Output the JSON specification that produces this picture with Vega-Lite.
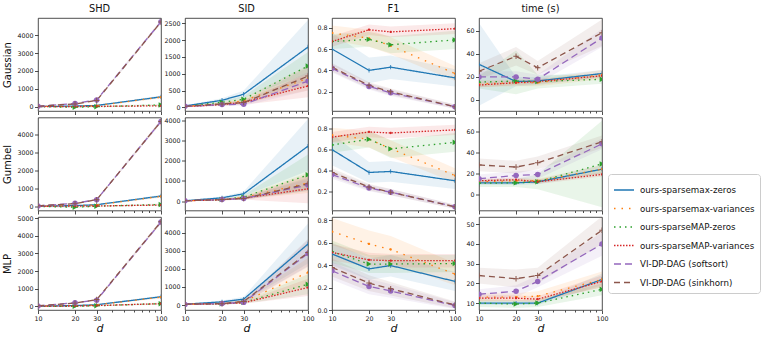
{
"$schema":"https://vega.github.io/schema/vega-lite/v6.json",
"padding":{"left":2,"top":3,"right":5,"bottom":3},
"bounds":"flush",
"columns":4,
"spacing":{"row":6.5,"column":24},
"data":{"values":[
{"r":"Gaussian","m":"SHD","s":"ours-sparsemax-zeros","d":10,"v":10,"lo":0,"hi":20},
{"r":"Gaussian","m":"SHD","s":"ours-sparsemax-zeros","d":20,"v":35,"lo":20,"hi":50},
{"r":"Gaussian","m":"SHD","s":"ours-sparsemax-zeros","d":30,"v":70,"lo":50,"hi":90},
{"r":"Gaussian","m":"SHD","s":"ours-sparsemax-zeros","d":100,"v":550,"lo":480,"hi":620},
{"r":"Gaussian","m":"SHD","s":"ours-sparsemax-variances","d":10,"v":10,"lo":0,"hi":20},
{"r":"Gaussian","m":"SHD","s":"ours-sparsemax-variances","d":20,"v":30,"lo":15,"hi":45},
{"r":"Gaussian","m":"SHD","s":"ours-sparsemax-variances","d":30,"v":60,"lo":40,"hi":80},
{"r":"Gaussian","m":"SHD","s":"ours-sparsemax-variances","d":100,"v":530,"lo":460,"hi":600},
{"r":"Gaussian","m":"SHD","s":"ours-sparseMAP-zeros","d":10,"v":5,"lo":-20,"hi":30},
{"r":"Gaussian","m":"SHD","s":"ours-sparseMAP-zeros","d":20,"v":-30,"lo":-80,"hi":20},
{"r":"Gaussian","m":"SHD","s":"ours-sparseMAP-zeros","d":30,"v":0,"lo":-40,"hi":40},
{"r":"Gaussian","m":"SHD","s":"ours-sparseMAP-zeros","d":100,"v":100,"lo":40,"hi":160},
{"r":"Gaussian","m":"SHD","s":"ours-sparseMAP-variances","d":10,"v":5,"lo":0,"hi":10},
{"r":"Gaussian","m":"SHD","s":"ours-sparseMAP-variances","d":20,"v":10,"lo":0,"hi":20},
{"r":"Gaussian","m":"SHD","s":"ours-sparseMAP-variances","d":30,"v":20,"lo":10,"hi":30},
{"r":"Gaussian","m":"SHD","s":"ours-sparseMAP-variances","d":100,"v":50,"lo":30,"hi":70},
{"r":"Gaussian","m":"SHD","s":"VI-DP-DAG (softsort)","d":10,"v":20,"lo":0,"hi":40},
{"r":"Gaussian","m":"SHD","s":"VI-DP-DAG (softsort)","d":20,"v":180,"lo":140,"hi":220},
{"r":"Gaussian","m":"SHD","s":"VI-DP-DAG (softsort)","d":30,"v":380,"lo":330,"hi":430},
{"r":"Gaussian","m":"SHD","s":"VI-DP-DAG (softsort)","d":100,"v":4750,"lo":4650,"hi":4850},
{"r":"Gaussian","m":"SHD","s":"VI-DP-DAG (sinkhorn)","d":10,"v":30,"lo":10,"hi":50},
{"r":"Gaussian","m":"SHD","s":"VI-DP-DAG (sinkhorn)","d":20,"v":150,"lo":110,"hi":190},
{"r":"Gaussian","m":"SHD","s":"VI-DP-DAG (sinkhorn)","d":30,"v":350,"lo":300,"hi":400},
{"r":"Gaussian","m":"SHD","s":"VI-DP-DAG (sinkhorn)","d":100,"v":4740,"lo":4640,"hi":4840},

{"r":"Gaussian","m":"SID","s":"ours-sparsemax-zeros","d":10,"v":40,"lo":20,"hi":60},
{"r":"Gaussian","m":"SID","s":"ours-sparsemax-zeros","d":20,"v":210,"lo":150,"hi":270},
{"r":"Gaussian","m":"SID","s":"ours-sparsemax-zeros","d":30,"v":390,"lo":280,"hi":500},
{"r":"Gaussian","m":"SID","s":"ours-sparsemax-zeros","d":100,"v":1795,"lo":1000,"hi":2600},
{"r":"Gaussian","m":"SID","s":"ours-sparsemax-variances","d":10,"v":30,"lo":10,"hi":50},
{"r":"Gaussian","m":"SID","s":"ours-sparsemax-variances","d":20,"v":100,"lo":60,"hi":140},
{"r":"Gaussian","m":"SID","s":"ours-sparsemax-variances","d":30,"v":200,"lo":120,"hi":280},
{"r":"Gaussian","m":"SID","s":"ours-sparsemax-variances","d":100,"v":860,"lo":500,"hi":1250},
{"r":"Gaussian","m":"SID","s":"ours-sparseMAP-zeros","d":10,"v":30,"lo":10,"hi":50},
{"r":"Gaussian","m":"SID","s":"ours-sparseMAP-zeros","d":20,"v":150,"lo":100,"hi":200},
{"r":"Gaussian","m":"SID","s":"ours-sparseMAP-zeros","d":30,"v":240,"lo":150,"hi":330},
{"r":"Gaussian","m":"SID","s":"ours-sparseMAP-zeros","d":100,"v":1230,"lo":800,"hi":1650},
{"r":"Gaussian","m":"SID","s":"ours-sparseMAP-variances","d":10,"v":20,"lo":0,"hi":40},
{"r":"Gaussian","m":"SID","s":"ours-sparseMAP-variances","d":20,"v":80,"lo":40,"hi":120},
{"r":"Gaussian","m":"SID","s":"ours-sparseMAP-variances","d":30,"v":150,"lo":80,"hi":220},
{"r":"Gaussian","m":"SID","s":"ours-sparseMAP-variances","d":100,"v":635,"lo":300,"hi":1000},
{"r":"Gaussian","m":"SID","s":"VI-DP-DAG (softsort)","d":10,"v":30,"lo":10,"hi":50},
{"r":"Gaussian","m":"SID","s":"VI-DP-DAG (softsort)","d":20,"v":80,"lo":50,"hi":110},
{"r":"Gaussian","m":"SID","s":"VI-DP-DAG (softsort)","d":30,"v":90,"lo":40,"hi":140},
{"r":"Gaussian","m":"SID","s":"VI-DP-DAG (softsort)","d":100,"v":780,"lo":500,"hi":1050},
{"r":"Gaussian","m":"SID","s":"VI-DP-DAG (sinkhorn)","d":10,"v":30,"lo":10,"hi":50},
{"r":"Gaussian","m":"SID","s":"VI-DP-DAG (sinkhorn)","d":20,"v":100,"lo":60,"hi":140},
{"r":"Gaussian","m":"SID","s":"VI-DP-DAG (sinkhorn)","d":30,"v":140,"lo":80,"hi":200},
{"r":"Gaussian","m":"SID","s":"VI-DP-DAG (sinkhorn)","d":100,"v":930,"lo":650,"hi":1200},

{"r":"Gaussian","m":"F1","s":"ours-sparsemax-zeros","d":10,"v":0.60,"lo":0.45,"hi":0.75},
{"r":"Gaussian","m":"F1","s":"ours-sparsemax-zeros","d":20,"v":0.40,"lo":0.28,"hi":0.52},
{"r":"Gaussian","m":"F1","s":"ours-sparsemax-zeros","d":30,"v":0.43,"lo":0.32,"hi":0.54},
{"r":"Gaussian","m":"F1","s":"ours-sparsemax-zeros","d":100,"v":0.33,"lo":0.25,"hi":0.41},
{"r":"Gaussian","m":"F1","s":"ours-sparsemax-variances","d":10,"v":0.75,"lo":0.68,"hi":0.82},
{"r":"Gaussian","m":"F1","s":"ours-sparsemax-variances","d":20,"v":0.70,"lo":0.62,"hi":0.78},
{"r":"Gaussian","m":"F1","s":"ours-sparsemax-variances","d":30,"v":0.63,"lo":0.55,"hi":0.71},
{"r":"Gaussian","m":"F1","s":"ours-sparsemax-variances","d":100,"v":0.37,"lo":0.30,"hi":0.44},
{"r":"Gaussian","m":"F1","s":"ours-sparseMAP-zeros","d":10,"v":0.67,"lo":0.60,"hi":0.74},
{"r":"Gaussian","m":"F1","s":"ours-sparseMAP-zeros","d":20,"v":0.69,"lo":0.62,"hi":0.76},
{"r":"Gaussian","m":"F1","s":"ours-sparseMAP-zeros","d":30,"v":0.64,"lo":0.56,"hi":0.72},
{"r":"Gaussian","m":"F1","s":"ours-sparseMAP-zeros","d":100,"v":0.685,"lo":0.60,"hi":0.77},
{"r":"Gaussian","m":"F1","s":"ours-sparseMAP-variances","d":10,"v":0.67,"lo":0.62,"hi":0.72},
{"r":"Gaussian","m":"F1","s":"ours-sparseMAP-variances","d":20,"v":0.78,"lo":0.73,"hi":0.83},
{"r":"Gaussian","m":"F1","s":"ours-sparseMAP-variances","d":30,"v":0.76,"lo":0.71,"hi":0.81},
{"r":"Gaussian","m":"F1","s":"ours-sparseMAP-variances","d":100,"v":0.79,"lo":0.74,"hi":0.84},
{"r":"Gaussian","m":"F1","s":"VI-DP-DAG (softsort)","d":10,"v":0.42,"lo":0.38,"hi":0.46},
{"r":"Gaussian","m":"F1","s":"VI-DP-DAG (softsort)","d":20,"v":0.25,"lo":0.22,"hi":0.28},
{"r":"Gaussian","m":"F1","s":"VI-DP-DAG (softsort)","d":30,"v":0.19,"lo":0.16,"hi":0.22},
{"r":"Gaussian","m":"F1","s":"VI-DP-DAG (softsort)","d":100,"v":0.06,"lo":0.04,"hi":0.08},
{"r":"Gaussian","m":"F1","s":"VI-DP-DAG (sinkhorn)","d":10,"v":0.43,"lo":0.39,"hi":0.47},
{"r":"Gaussian","m":"F1","s":"VI-DP-DAG (sinkhorn)","d":20,"v":0.26,"lo":0.23,"hi":0.29},
{"r":"Gaussian","m":"F1","s":"VI-DP-DAG (sinkhorn)","d":30,"v":0.20,"lo":0.17,"hi":0.23},
{"r":"Gaussian","m":"F1","s":"VI-DP-DAG (sinkhorn)","d":100,"v":0.06,"lo":0.04,"hi":0.08},

{"r":"Gaussian","m":"time","s":"ours-sparsemax-zeros","d":10,"v":31,"lo":-5,"hi":67},
{"r":"Gaussian","m":"time","s":"ours-sparsemax-zeros","d":20,"v":16,"lo":12,"hi":20},
{"r":"Gaussian","m":"time","s":"ours-sparsemax-zeros","d":30,"v":16.5,"lo":13,"hi":20},
{"r":"Gaussian","m":"time","s":"ours-sparsemax-zeros","d":100,"v":23,"lo":20,"hi":26},
{"r":"Gaussian","m":"time","s":"ours-sparsemax-variances","d":10,"v":14,"lo":11,"hi":17},
{"r":"Gaussian","m":"time","s":"ours-sparsemax-variances","d":20,"v":15,"lo":12,"hi":18},
{"r":"Gaussian","m":"time","s":"ours-sparsemax-variances","d":30,"v":15,"lo":12,"hi":18},
{"r":"Gaussian","m":"time","s":"ours-sparsemax-variances","d":100,"v":22,"lo":18,"hi":26},
{"r":"Gaussian","m":"time","s":"ours-sparseMAP-zeros","d":10,"v":15.5,"lo":10,"hi":21},
{"r":"Gaussian","m":"time","s":"ours-sparseMAP-zeros","d":20,"v":16.5,"lo":5,"hi":43},
{"r":"Gaussian","m":"time","s":"ours-sparseMAP-zeros","d":30,"v":16,"lo":10,"hi":22},
{"r":"Gaussian","m":"time","s":"ours-sparseMAP-zeros","d":100,"v":18,"lo":14,"hi":22},
{"r":"Gaussian","m":"time","s":"ours-sparseMAP-variances","d":10,"v":13,"lo":11,"hi":15},
{"r":"Gaussian","m":"time","s":"ours-sparseMAP-variances","d":20,"v":15,"lo":13,"hi":17},
{"r":"Gaussian","m":"time","s":"ours-sparseMAP-variances","d":30,"v":16,"lo":14,"hi":18},
{"r":"Gaussian","m":"time","s":"ours-sparseMAP-variances","d":100,"v":21,"lo":19,"hi":23},
{"r":"Gaussian","m":"time","s":"VI-DP-DAG (softsort)","d":10,"v":20,"lo":15,"hi":25},
{"r":"Gaussian","m":"time","s":"VI-DP-DAG (softsort)","d":20,"v":20,"lo":15,"hi":25},
{"r":"Gaussian","m":"time","s":"VI-DP-DAG (softsort)","d":30,"v":18,"lo":14,"hi":22},
{"r":"Gaussian","m":"time","s":"VI-DP-DAG (softsort)","d":100,"v":54,"lo":46,"hi":62},
{"r":"Gaussian","m":"time","s":"VI-DP-DAG (sinkhorn)","d":10,"v":25,"lo":18,"hi":32},
{"r":"Gaussian","m":"time","s":"VI-DP-DAG (sinkhorn)","d":20,"v":38,"lo":30,"hi":46},
{"r":"Gaussian","m":"time","s":"VI-DP-DAG (sinkhorn)","d":30,"v":28,"lo":22,"hi":34},
{"r":"Gaussian","m":"time","s":"VI-DP-DAG (sinkhorn)","d":100,"v":58.5,"lo":47,"hi":70},

{"r":"Gumbel","m":"SHD","s":"ours-sparsemax-zeros","d":10,"v":10,"lo":0,"hi":20},
{"r":"Gumbel","m":"SHD","s":"ours-sparsemax-zeros","d":20,"v":40,"lo":25,"hi":55},
{"r":"Gumbel","m":"SHD","s":"ours-sparsemax-zeros","d":30,"v":90,"lo":70,"hi":110},
{"r":"Gumbel","m":"SHD","s":"ours-sparsemax-zeros","d":100,"v":570,"lo":500,"hi":640},
{"r":"Gumbel","m":"SHD","s":"ours-sparsemax-variances","d":10,"v":10,"lo":0,"hi":20},
{"r":"Gumbel","m":"SHD","s":"ours-sparsemax-variances","d":20,"v":35,"lo":20,"hi":50},
{"r":"Gumbel","m":"SHD","s":"ours-sparsemax-variances","d":30,"v":80,"lo":60,"hi":100},
{"r":"Gumbel","m":"SHD","s":"ours-sparsemax-variances","d":100,"v":550,"lo":480,"hi":620},
{"r":"Gumbel","m":"SHD","s":"ours-sparseMAP-zeros","d":10,"v":0,"lo":-30,"hi":30},
{"r":"Gumbel","m":"SHD","s":"ours-sparseMAP-zeros","d":20,"v":-50,"lo":-100,"hi":0},
{"r":"Gumbel","m":"SHD","s":"ours-sparseMAP-zeros","d":30,"v":10,"lo":-30,"hi":50},
{"r":"Gumbel","m":"SHD","s":"ours-sparseMAP-zeros","d":100,"v":100,"lo":40,"hi":160},
{"r":"Gumbel","m":"SHD","s":"ours-sparseMAP-variances","d":10,"v":5,"lo":0,"hi":10},
{"r":"Gumbel","m":"SHD","s":"ours-sparseMAP-variances","d":20,"v":10,"lo":0,"hi":20},
{"r":"Gumbel","m":"SHD","s":"ours-sparseMAP-variances","d":30,"v":20,"lo":10,"hi":30},
{"r":"Gumbel","m":"SHD","s":"ours-sparseMAP-variances","d":100,"v":70,"lo":50,"hi":90},
{"r":"Gumbel","m":"SHD","s":"VI-DP-DAG (softsort)","d":10,"v":20,"lo":0,"hi":40},
{"r":"Gumbel","m":"SHD","s":"VI-DP-DAG (softsort)","d":20,"v":170,"lo":130,"hi":210},
{"r":"Gumbel","m":"SHD","s":"VI-DP-DAG (softsort)","d":30,"v":370,"lo":320,"hi":420},
{"r":"Gumbel","m":"SHD","s":"VI-DP-DAG (softsort)","d":100,"v":4700,"lo":4600,"hi":4800},
{"r":"Gumbel","m":"SHD","s":"VI-DP-DAG (sinkhorn)","d":10,"v":30,"lo":10,"hi":50},
{"r":"Gumbel","m":"SHD","s":"VI-DP-DAG (sinkhorn)","d":20,"v":150,"lo":110,"hi":190},
{"r":"Gumbel","m":"SHD","s":"VI-DP-DAG (sinkhorn)","d":30,"v":370,"lo":320,"hi":420},
{"r":"Gumbel","m":"SHD","s":"VI-DP-DAG (sinkhorn)","d":100,"v":4700,"lo":4600,"hi":4800},

{"r":"Gumbel","m":"SID","s":"ours-sparsemax-zeros","d":10,"v":20,"lo":0,"hi":40},
{"r":"Gumbel","m":"SID","s":"ours-sparsemax-zeros","d":20,"v":165,"lo":100,"hi":230},
{"r":"Gumbel","m":"SID","s":"ours-sparsemax-zeros","d":30,"v":365,"lo":250,"hi":480},
{"r":"Gumbel","m":"SID","s":"ours-sparsemax-zeros","d":100,"v":2716,"lo":1500,"hi":4050},
{"r":"Gumbel","m":"SID","s":"ours-sparsemax-variances","d":10,"v":20,"lo":0,"hi":40},
{"r":"Gumbel","m":"SID","s":"ours-sparsemax-variances","d":20,"v":80,"lo":40,"hi":120},
{"r":"Gumbel","m":"SID","s":"ours-sparsemax-variances","d":30,"v":180,"lo":100,"hi":260},
{"r":"Gumbel","m":"SID","s":"ours-sparsemax-variances","d":100,"v":900,"lo":400,"hi":1400},
{"r":"Gumbel","m":"SID","s":"ours-sparseMAP-zeros","d":10,"v":20,"lo":0,"hi":40},
{"r":"Gumbel","m":"SID","s":"ours-sparseMAP-zeros","d":20,"v":80,"lo":40,"hi":120},
{"r":"Gumbel","m":"SID","s":"ours-sparseMAP-zeros","d":30,"v":200,"lo":100,"hi":300},
{"r":"Gumbel","m":"SID","s":"ours-sparseMAP-zeros","d":100,"v":1300,"lo":500,"hi":2300},
{"r":"Gumbel","m":"SID","s":"ours-sparseMAP-variances","d":10,"v":20,"lo":0,"hi":40},
{"r":"Gumbel","m":"SID","s":"ours-sparseMAP-variances","d":20,"v":70,"lo":30,"hi":110},
{"r":"Gumbel","m":"SID","s":"ours-sparseMAP-variances","d":30,"v":150,"lo":80,"hi":220},
{"r":"Gumbel","m":"SID","s":"ours-sparseMAP-variances","d":100,"v":610,"lo":-100,"hi":1300},
{"r":"Gumbel","m":"SID","s":"VI-DP-DAG (softsort)","d":10,"v":20,"lo":0,"hi":40},
{"r":"Gumbel","m":"SID","s":"VI-DP-DAG (softsort)","d":20,"v":80,"lo":40,"hi":120},
{"r":"Gumbel","m":"SID","s":"VI-DP-DAG (softsort)","d":30,"v":130,"lo":70,"hi":190},
{"r":"Gumbel","m":"SID","s":"VI-DP-DAG (softsort)","d":100,"v":800,"lo":500,"hi":1100},
{"r":"Gumbel","m":"SID","s":"VI-DP-DAG (sinkhorn)","d":10,"v":20,"lo":0,"hi":40},
{"r":"Gumbel","m":"SID","s":"VI-DP-DAG (sinkhorn)","d":20,"v":80,"lo":40,"hi":120},
{"r":"Gumbel","m":"SID","s":"VI-DP-DAG (sinkhorn)","d":30,"v":130,"lo":70,"hi":190},
{"r":"Gumbel","m":"SID","s":"VI-DP-DAG (sinkhorn)","d":100,"v":860,"lo":550,"hi":1170},

{"r":"Gumbel","m":"F1","s":"ours-sparsemax-zeros","d":10,"v":0.60,"lo":0.45,"hi":0.75},
{"r":"Gumbel","m":"F1","s":"ours-sparsemax-zeros","d":20,"v":0.38,"lo":0.28,"hi":0.48},
{"r":"Gumbel","m":"F1","s":"ours-sparsemax-zeros","d":30,"v":0.39,"lo":0.29,"hi":0.49},
{"r":"Gumbel","m":"F1","s":"ours-sparsemax-zeros","d":100,"v":0.30,"lo":0.22,"hi":0.38},
{"r":"Gumbel","m":"F1","s":"ours-sparsemax-variances","d":10,"v":0.74,"lo":0.67,"hi":0.81},
{"r":"Gumbel","m":"F1","s":"ours-sparsemax-variances","d":20,"v":0.70,"lo":0.62,"hi":0.78},
{"r":"Gumbel","m":"F1","s":"ours-sparsemax-variances","d":30,"v":0.61,"lo":0.53,"hi":0.69},
{"r":"Gumbel","m":"F1","s":"ours-sparsemax-variances","d":100,"v":0.35,"lo":0.28,"hi":0.42},
{"r":"Gumbel","m":"F1","s":"ours-sparseMAP-zeros","d":10,"v":0.645,"lo":0.57,"hi":0.72},
{"r":"Gumbel","m":"F1","s":"ours-sparseMAP-zeros","d":20,"v":0.70,"lo":0.62,"hi":0.78},
{"r":"Gumbel","m":"F1","s":"ours-sparseMAP-zeros","d":30,"v":0.607,"lo":0.52,"hi":0.69},
{"r":"Gumbel","m":"F1","s":"ours-sparseMAP-zeros","d":100,"v":0.67,"lo":0.58,"hi":0.76},
{"r":"Gumbel","m":"F1","s":"ours-sparseMAP-variances","d":10,"v":0.72,"lo":0.67,"hi":0.77},
{"r":"Gumbel","m":"F1","s":"ours-sparseMAP-variances","d":20,"v":0.77,"lo":0.72,"hi":0.82},
{"r":"Gumbel","m":"F1","s":"ours-sparseMAP-variances","d":30,"v":0.76,"lo":0.71,"hi":0.81},
{"r":"Gumbel","m":"F1","s":"ours-sparseMAP-variances","d":100,"v":0.79,"lo":0.74,"hi":0.84},
{"r":"Gumbel","m":"F1","s":"VI-DP-DAG (softsort)","d":10,"v":0.36,"lo":0.32,"hi":0.40},
{"r":"Gumbel","m":"F1","s":"VI-DP-DAG (softsort)","d":20,"v":0.23,"lo":0.20,"hi":0.26},
{"r":"Gumbel","m":"F1","s":"VI-DP-DAG (softsort)","d":30,"v":0.19,"lo":0.16,"hi":0.22},
{"r":"Gumbel","m":"F1","s":"VI-DP-DAG (softsort)","d":100,"v":0.05,"lo":0.03,"hi":0.07},
{"r":"Gumbel","m":"F1","s":"VI-DP-DAG (sinkhorn)","d":10,"v":0.38,"lo":0.34,"hi":0.42},
{"r":"Gumbel","m":"F1","s":"VI-DP-DAG (sinkhorn)","d":20,"v":0.24,"lo":0.21,"hi":0.27},
{"r":"Gumbel","m":"F1","s":"VI-DP-DAG (sinkhorn)","d":30,"v":0.19,"lo":0.16,"hi":0.22},
{"r":"Gumbel","m":"F1","s":"VI-DP-DAG (sinkhorn)","d":100,"v":0.05,"lo":0.03,"hi":0.07},

{"r":"Gumbel","m":"time","s":"ours-sparsemax-zeros","d":10,"v":11,"lo":9,"hi":13},
{"r":"Gumbel","m":"time","s":"ours-sparsemax-zeros","d":20,"v":11,"lo":9,"hi":13},
{"r":"Gumbel","m":"time","s":"ours-sparsemax-zeros","d":30,"v":12,"lo":10,"hi":14},
{"r":"Gumbel","m":"time","s":"ours-sparsemax-zeros","d":100,"v":24,"lo":20,"hi":28},
{"r":"Gumbel","m":"time","s":"ours-sparsemax-variances","d":10,"v":12,"lo":10,"hi":14},
{"r":"Gumbel","m":"time","s":"ours-sparsemax-variances","d":20,"v":13,"lo":11,"hi":15},
{"r":"Gumbel","m":"time","s":"ours-sparsemax-variances","d":30,"v":13,"lo":11,"hi":15},
{"r":"Gumbel","m":"time","s":"ours-sparsemax-variances","d":100,"v":24,"lo":20,"hi":28},
{"r":"Gumbel","m":"time","s":"ours-sparseMAP-zeros","d":10,"v":10.7,"lo":7,"hi":14},
{"r":"Gumbel","m":"time","s":"ours-sparseMAP-zeros","d":20,"v":11,"lo":7,"hi":15},
{"r":"Gumbel","m":"time","s":"ours-sparseMAP-zeros","d":30,"v":12,"lo":5,"hi":19},
{"r":"Gumbel","m":"time","s":"ours-sparseMAP-zeros","d":100,"v":29,"lo":-12,"hi":70},
{"r":"Gumbel","m":"time","s":"ours-sparseMAP-variances","d":10,"v":13,"lo":11,"hi":15},
{"r":"Gumbel","m":"time","s":"ours-sparseMAP-variances","d":20,"v":14,"lo":12,"hi":16},
{"r":"Gumbel","m":"time","s":"ours-sparseMAP-variances","d":30,"v":12,"lo":10,"hi":14},
{"r":"Gumbel","m":"time","s":"ours-sparseMAP-variances","d":100,"v":19,"lo":17,"hi":21},
{"r":"Gumbel","m":"time","s":"VI-DP-DAG (softsort)","d":10,"v":15,"lo":11,"hi":19},
{"r":"Gumbel","m":"time","s":"VI-DP-DAG (softsort)","d":20,"v":18,"lo":14,"hi":22},
{"r":"Gumbel","m":"time","s":"VI-DP-DAG (softsort)","d":30,"v":19,"lo":15,"hi":23},
{"r":"Gumbel","m":"time","s":"VI-DP-DAG (softsort)","d":100,"v":48,"lo":43,"hi":53},
{"r":"Gumbel","m":"time","s":"VI-DP-DAG (sinkhorn)","d":10,"v":28,"lo":22,"hi":34},
{"r":"Gumbel","m":"time","s":"VI-DP-DAG (sinkhorn)","d":20,"v":26,"lo":20,"hi":32},
{"r":"Gumbel","m":"time","s":"VI-DP-DAG (sinkhorn)","d":30,"v":30,"lo":24,"hi":36},
{"r":"Gumbel","m":"time","s":"VI-DP-DAG (sinkhorn)","d":100,"v":50,"lo":44,"hi":56},

{"r":"MLP","m":"SHD","s":"ours-sparsemax-zeros","d":10,"v":10,"lo":0,"hi":20},
{"r":"MLP","m":"SHD","s":"ours-sparsemax-zeros","d":20,"v":40,"lo":25,"hi":55},
{"r":"MLP","m":"SHD","s":"ours-sparsemax-zeros","d":30,"v":90,"lo":70,"hi":110},
{"r":"MLP","m":"SHD","s":"ours-sparsemax-zeros","d":100,"v":540,"lo":470,"hi":610},
{"r":"MLP","m":"SHD","s":"ours-sparsemax-variances","d":10,"v":10,"lo":0,"hi":20},
{"r":"MLP","m":"SHD","s":"ours-sparsemax-variances","d":20,"v":40,"lo":25,"hi":55},
{"r":"MLP","m":"SHD","s":"ours-sparsemax-variances","d":30,"v":80,"lo":60,"hi":100},
{"r":"MLP","m":"SHD","s":"ours-sparsemax-variances","d":100,"v":520,"lo":450,"hi":590},
{"r":"MLP","m":"SHD","s":"ours-sparseMAP-zeros","d":10,"v":0,"lo":-20,"hi":20},
{"r":"MLP","m":"SHD","s":"ours-sparseMAP-zeros","d":20,"v":0,"lo":-40,"hi":40},
{"r":"MLP","m":"SHD","s":"ours-sparseMAP-zeros","d":30,"v":30,"lo":0,"hi":60},
{"r":"MLP","m":"SHD","s":"ours-sparseMAP-zeros","d":100,"v":150,"lo":90,"hi":210},
{"r":"MLP","m":"SHD","s":"ours-sparseMAP-variances","d":10,"v":5,"lo":0,"hi":10},
{"r":"MLP","m":"SHD","s":"ours-sparseMAP-variances","d":20,"v":20,"lo":10,"hi":30},
{"r":"MLP","m":"SHD","s":"ours-sparseMAP-variances","d":30,"v":40,"lo":25,"hi":55},
{"r":"MLP","m":"SHD","s":"ours-sparseMAP-variances","d":100,"v":150,"lo":120,"hi":180},
{"r":"MLP","m":"SHD","s":"VI-DP-DAG (softsort)","d":10,"v":20,"lo":0,"hi":40},
{"r":"MLP","m":"SHD","s":"VI-DP-DAG (softsort)","d":20,"v":200,"lo":160,"hi":240},
{"r":"MLP","m":"SHD","s":"VI-DP-DAG (softsort)","d":30,"v":350,"lo":300,"hi":400},
{"r":"MLP","m":"SHD","s":"VI-DP-DAG (softsort)","d":100,"v":4780,"lo":4680,"hi":4880},
{"r":"MLP","m":"SHD","s":"VI-DP-DAG (sinkhorn)","d":10,"v":30,"lo":10,"hi":50},
{"r":"MLP","m":"SHD","s":"VI-DP-DAG (sinkhorn)","d":20,"v":180,"lo":140,"hi":220},
{"r":"MLP","m":"SHD","s":"VI-DP-DAG (sinkhorn)","d":30,"v":380,"lo":330,"hi":430},
{"r":"MLP","m":"SHD","s":"VI-DP-DAG (sinkhorn)","d":100,"v":4800,"lo":4700,"hi":4900},

{"r":"MLP","m":"SID","s":"ours-sparsemax-zeros","d":10,"v":50,"lo":20,"hi":80},
{"r":"MLP","m":"SID","s":"ours-sparsemax-zeros","d":20,"v":180,"lo":100,"hi":260},
{"r":"MLP","m":"SID","s":"ours-sparsemax-zeros","d":30,"v":330,"lo":200,"hi":460},
{"r":"MLP","m":"SID","s":"ours-sparsemax-zeros","d":100,"v":3370,"lo":2300,"hi":4500},
{"r":"MLP","m":"SID","s":"ours-sparsemax-variances","d":10,"v":50,"lo":20,"hi":80},
{"r":"MLP","m":"SID","s":"ours-sparsemax-variances","d":20,"v":100,"lo":50,"hi":150},
{"r":"MLP","m":"SID","s":"ours-sparsemax-variances","d":30,"v":200,"lo":100,"hi":300},
{"r":"MLP","m":"SID","s":"ours-sparsemax-variances","d":100,"v":1800,"lo":1000,"hi":2600},
{"r":"MLP","m":"SID","s":"ours-sparseMAP-zeros","d":10,"v":50,"lo":20,"hi":80},
{"r":"MLP","m":"SID","s":"ours-sparseMAP-zeros","d":20,"v":80,"lo":40,"hi":120},
{"r":"MLP","m":"SID","s":"ours-sparseMAP-zeros","d":30,"v":150,"lo":80,"hi":220},
{"r":"MLP","m":"SID","s":"ours-sparseMAP-zeros","d":100,"v":1150,"lo":600,"hi":1700},
{"r":"MLP","m":"SID","s":"ours-sparseMAP-variances","d":10,"v":50,"lo":20,"hi":80},
{"r":"MLP","m":"SID","s":"ours-sparseMAP-variances","d":20,"v":70,"lo":30,"hi":110},
{"r":"MLP","m":"SID","s":"ours-sparseMAP-variances","d":30,"v":130,"lo":70,"hi":190},
{"r":"MLP","m":"SID","s":"ours-sparseMAP-variances","d":100,"v":970,"lo":500,"hi":1450},
{"r":"MLP","m":"SID","s":"VI-DP-DAG (softsort)","d":10,"v":40,"lo":10,"hi":70},
{"r":"MLP","m":"SID","s":"VI-DP-DAG (softsort)","d":20,"v":90,"lo":50,"hi":130},
{"r":"MLP","m":"SID","s":"VI-DP-DAG (softsort)","d":30,"v":150,"lo":80,"hi":220},
{"r":"MLP","m":"SID","s":"VI-DP-DAG (softsort)","d":100,"v":2850,"lo":2100,"hi":3600},
{"r":"MLP","m":"SID","s":"VI-DP-DAG (sinkhorn)","d":10,"v":50,"lo":20,"hi":80},
{"r":"MLP","m":"SID","s":"VI-DP-DAG (sinkhorn)","d":20,"v":80,"lo":40,"hi":120},
{"r":"MLP","m":"SID","s":"VI-DP-DAG (sinkhorn)","d":30,"v":200,"lo":120,"hi":280},
{"r":"MLP","m":"SID","s":"VI-DP-DAG (sinkhorn)","d":100,"v":2900,"lo":2150,"hi":3650},

{"r":"MLP","m":"F1","s":"ours-sparsemax-zeros","d":10,"v":0.50,"lo":0.40,"hi":0.60},
{"r":"MLP","m":"F1","s":"ours-sparsemax-zeros","d":20,"v":0.367,"lo":0.27,"hi":0.46},
{"r":"MLP","m":"F1","s":"ours-sparsemax-zeros","d":30,"v":0.397,"lo":0.30,"hi":0.49},
{"r":"MLP","m":"F1","s":"ours-sparsemax-zeros","d":100,"v":0.255,"lo":0.17,"hi":0.34},
{"r":"MLP","m":"F1","s":"ours-sparsemax-variances","d":10,"v":0.70,"lo":0.58,"hi":0.82},
{"r":"MLP","m":"F1","s":"ours-sparsemax-variances","d":20,"v":0.59,"lo":0.47,"hi":0.71},
{"r":"MLP","m":"F1","s":"ours-sparsemax-variances","d":30,"v":0.54,"lo":0.42,"hi":0.66},
{"r":"MLP","m":"F1","s":"ours-sparsemax-variances","d":100,"v":0.32,"lo":0.22,"hi":0.42},
{"r":"MLP","m":"F1","s":"ours-sparseMAP-zeros","d":10,"v":0.52,"lo":0.42,"hi":0.62},
{"r":"MLP","m":"F1","s":"ours-sparseMAP-zeros","d":20,"v":0.41,"lo":0.33,"hi":0.49},
{"r":"MLP","m":"F1","s":"ours-sparseMAP-zeros","d":30,"v":0.41,"lo":0.33,"hi":0.49},
{"r":"MLP","m":"F1","s":"ours-sparseMAP-zeros","d":100,"v":0.415,"lo":0.34,"hi":0.49},
{"r":"MLP","m":"F1","s":"ours-sparseMAP-variances","d":10,"v":0.514,"lo":0.44,"hi":0.59},
{"r":"MLP","m":"F1","s":"ours-sparseMAP-variances","d":20,"v":0.447,"lo":0.39,"hi":0.51},
{"r":"MLP","m":"F1","s":"ours-sparseMAP-variances","d":30,"v":0.44,"lo":0.38,"hi":0.50},
{"r":"MLP","m":"F1","s":"ours-sparseMAP-variances","d":100,"v":0.44,"lo":0.38,"hi":0.50},
{"r":"MLP","m":"F1","s":"VI-DP-DAG (softsort)","d":10,"v":0.35,"lo":0.27,"hi":0.43},
{"r":"MLP","m":"F1","s":"VI-DP-DAG (softsort)","d":20,"v":0.21,"lo":0.14,"hi":0.28},
{"r":"MLP","m":"F1","s":"VI-DP-DAG (softsort)","d":30,"v":0.17,"lo":0.11,"hi":0.23},
{"r":"MLP","m":"F1","s":"VI-DP-DAG (softsort)","d":100,"v":0.04,"lo":0.01,"hi":0.07},
{"r":"MLP","m":"F1","s":"VI-DP-DAG (sinkhorn)","d":10,"v":0.38,"lo":0.30,"hi":0.46},
{"r":"MLP","m":"F1","s":"VI-DP-DAG (sinkhorn)","d":20,"v":0.24,"lo":0.17,"hi":0.31},
{"r":"MLP","m":"F1","s":"VI-DP-DAG (sinkhorn)","d":30,"v":0.19,"lo":0.13,"hi":0.25},
{"r":"MLP","m":"F1","s":"VI-DP-DAG (sinkhorn)","d":100,"v":0.045,"lo":0.015,"hi":0.075},

{"r":"MLP","m":"time","s":"ours-sparsemax-zeros","d":10,"v":10,"lo":9,"hi":11},
{"r":"MLP","m":"time","s":"ours-sparsemax-zeros","d":20,"v":10,"lo":9,"hi":11},
{"r":"MLP","m":"time","s":"ours-sparsemax-zeros","d":30,"v":10,"lo":9,"hi":11},
{"r":"MLP","m":"time","s":"ours-sparsemax-zeros","d":100,"v":22,"lo":19,"hi":25},
{"r":"MLP","m":"time","s":"ours-sparsemax-variances","d":10,"v":13,"lo":11,"hi":15},
{"r":"MLP","m":"time","s":"ours-sparsemax-variances","d":20,"v":13,"lo":11,"hi":15},
{"r":"MLP","m":"time","s":"ours-sparsemax-variances","d":30,"v":13.5,"lo":11,"hi":16},
{"r":"MLP","m":"time","s":"ours-sparsemax-variances","d":100,"v":22,"lo":18,"hi":26},
{"r":"MLP","m":"time","s":"ours-sparseMAP-zeros","d":10,"v":10,"lo":8,"hi":12},
{"r":"MLP","m":"time","s":"ours-sparseMAP-zeros","d":20,"v":9.5,"lo":7.5,"hi":11.5},
{"r":"MLP","m":"time","s":"ours-sparseMAP-zeros","d":30,"v":10,"lo":8,"hi":12},
{"r":"MLP","m":"time","s":"ours-sparseMAP-zeros","d":100,"v":17,"lo":14,"hi":20},
{"r":"MLP","m":"time","s":"ours-sparseMAP-variances","d":10,"v":12.5,"lo":11,"hi":14},
{"r":"MLP","m":"time","s":"ours-sparseMAP-variances","d":20,"v":12.5,"lo":11,"hi":14},
{"r":"MLP","m":"time","s":"ours-sparseMAP-variances","d":30,"v":12,"lo":10.5,"hi":13.5},
{"r":"MLP","m":"time","s":"ours-sparseMAP-variances","d":100,"v":21,"lo":18,"hi":24},
{"r":"MLP","m":"time","s":"VI-DP-DAG (softsort)","d":10,"v":14.5,"lo":12,"hi":17},
{"r":"MLP","m":"time","s":"VI-DP-DAG (softsort)","d":20,"v":16,"lo":13,"hi":19},
{"r":"MLP","m":"time","s":"VI-DP-DAG (softsort)","d":30,"v":21,"lo":18,"hi":24},
{"r":"MLP","m":"time","s":"VI-DP-DAG (softsort)","d":100,"v":40,"lo":34,"hi":46},
{"r":"MLP","m":"time","s":"VI-DP-DAG (sinkhorn)","d":10,"v":24,"lo":20,"hi":28},
{"r":"MLP","m":"time","s":"VI-DP-DAG (sinkhorn)","d":20,"v":22.4,"lo":18,"hi":27},
{"r":"MLP","m":"time","s":"VI-DP-DAG (sinkhorn)","d":30,"v":24,"lo":20,"hi":28},
{"r":"MLP","m":"time","s":"VI-DP-DAG (sinkhorn)","d":100,"v":47,"lo":40,"hi":54}
]},
"concat":[
{"width":123,"height":93,"title":"SHD","transform":[{"filter":"datum.r=='Gaussian'&&datum.m=='SHD'"}],
 "encoding":{"x":{"field":"d","type":"quantitative","scale":{"type":"log","domain":[10,100]},"axis":{"values":[10,20,30,40,50,60,70,80,90,100],"labels":false,"title":null,"tickSize":{"condition":{"test":"datum.value==10||datum.value==20||datum.value==30||datum.value==100","value":3.5},"value":2}}},
  "y":{"field":"v","type":"quantitative","scale":{"domain":[-240,4960],"nice":false,"zero":false},"axis":{"values":[0,1000,2000,3000,4000],"format":"d","title":"Gaussian"}}},
 "layer":[
  {"mark":{"type":"area","opacity":0.1,"clip":true},"encoding":{"y":{"field":"lo","type":"quantitative","stack":null},"y2":{"field":"hi"},"fill":{"field":"s","type":"nominal","legend":null}}},
  {"mark":{"type":"line","strokeWidth":1.3,"clip":true},"encoding":{"color":{"field":"s","type":"nominal"},"strokeDash":{"field":"s","type":"nominal"}}},
  {"mark":{"type":"point","filled":true,"opacity":1,"size":30,"clip":true},"encoding":{"fill":{"field":"s","type":"nominal","legend":null},"shape":{"field":"s","type":"nominal","legend":null}}}]},
{"width":123,"height":93,"title":"SID","transform":[{"filter":"datum.r=='Gaussian'&&datum.m=='SID'"}],
 "encoding":{"x":{"field":"d","type":"quantitative","scale":{"type":"log","domain":[10,100]},"axis":{"values":[10,20,30,40,50,60,70,80,90,100],"labels":false,"title":null,"tickSize":{"condition":{"test":"datum.value==10||datum.value==20||datum.value==30||datum.value==100","value":3.5},"value":2}}},
  "y":{"field":"v","type":"quantitative","scale":{"domain":[-110,2660],"nice":false,"zero":false},"axis":{"values":[0,500,1000,1500,2000,2500],"format":"d","title":null}}},
 "layer":[
  {"mark":{"type":"area","opacity":0.1,"clip":true},"encoding":{"y":{"field":"lo","type":"quantitative","stack":null},"y2":{"field":"hi"},"fill":{"field":"s","type":"nominal","legend":null}}},
  {"mark":{"type":"line","strokeWidth":1.3,"clip":true},"encoding":{"color":{"field":"s","type":"nominal"},"strokeDash":{"field":"s","type":"nominal"}}},
  {"mark":{"type":"point","filled":true,"opacity":1,"size":30,"clip":true},"encoding":{"fill":{"field":"s","type":"nominal","legend":null},"shape":{"field":"s","type":"nominal","legend":null}}}]},
{"width":123,"height":93,"title":"F1","transform":[{"filter":"datum.r=='Gaussian'&&datum.m=='F1'"}],
 "encoding":{"x":{"field":"d","type":"quantitative","scale":{"type":"log","domain":[10,100]},"axis":{"values":[10,20,30,40,50,60,70,80,90,100],"labels":false,"title":null,"tickSize":{"condition":{"test":"datum.value==10||datum.value==20||datum.value==30||datum.value==100","value":3.5},"value":2}}},
  "y":{"field":"v","type":"quantitative","scale":{"domain":[0.02,0.89],"nice":false,"zero":false},"axis":{"values":[0.2,0.4,0.6,0.8],"format":".1f","title":null}}},
 "layer":[
  {"mark":{"type":"area","opacity":0.1,"clip":true},"encoding":{"y":{"field":"lo","type":"quantitative","stack":null},"y2":{"field":"hi"},"fill":{"field":"s","type":"nominal","legend":null}}},
  {"mark":{"type":"line","strokeWidth":1.3,"clip":true},"encoding":{"color":{"field":"s","type":"nominal"},"strokeDash":{"field":"s","type":"nominal"}}},
  {"mark":{"type":"point","filled":true,"opacity":1,"size":30,"clip":true},"encoding":{"fill":{"field":"s","type":"nominal","legend":null},"shape":{"field":"s","type":"nominal","legend":null}}}]},
{"width":123,"height":93,"title":"time (s)","transform":[{"filter":"datum.r=='Gaussian'&&datum.m=='time'"}],
 "encoding":{"x":{"field":"d","type":"quantitative","scale":{"type":"log","domain":[10,100]},"axis":{"values":[10,20,30,40,50,60,70,80,90,100],"labels":false,"title":null,"tickSize":{"condition":{"test":"datum.value==10||datum.value==20||datum.value==30||datum.value==100","value":3.5},"value":2}}},
  "y":{"field":"v","type":"quantitative","scale":{"domain":[-9.6,71.3],"nice":false,"zero":false},"axis":{"values":[0,20,40,60],"format":"d","title":null}}},
 "layer":[
  {"mark":{"type":"area","opacity":0.1,"clip":true},"encoding":{"y":{"field":"lo","type":"quantitative","stack":null},"y2":{"field":"hi"},
    "fill":{"field":"s","type":"nominal","scale":{"range":["#8c564b","#9467bd","#d62728","#2ca02c","#ff7f0e","#1f77b4"]},"legend":null}}},
  {"mark":{"type":"line","strokeWidth":1.3,"clip":true},"encoding":{
    "color":{"field":"s","type":"nominal","scale":{"domain":["ours-sparsemax-zeros","ours-sparsemax-variances","ours-sparseMAP-zeros","ours-sparseMAP-variances","VI-DP-DAG (softsort)","VI-DP-DAG (sinkhorn)"],"range":["#1f77b4","#ff7f0e","#2ca02c","#d62728","#9467bd","#8c564b"]},
      "legend":{"title":null,"orient":"none","legendX":570,"legendY":156,"symbolType":"stroke","symbolSize":400,"symbolStrokeWidth":1.5,"symbolOpacity":1,"labelFontSize":8.7,"labelColor":"#111","strokeColor":"#cccccc","cornerRadius":3,"padding":5,"rowPadding":2.5,"fillColor":"white","labelOffset":5}},
    "strokeDash":{"field":"s","type":"nominal","scale":{"domain":["ours-sparsemax-zeros","ours-sparsemax-variances","ours-sparseMAP-zeros","ours-sparseMAP-variances","VI-DP-DAG (softsort)","VI-DP-DAG (sinkhorn)"],"range":[[1,0],[1.5,6],[1.5,4],[1.5,1.5],[7,4],[6,4]]},
      "legend":{"title":null,"orient":"none","legendX":570,"legendY":156,"symbolType":"stroke","symbolSize":400,"symbolStrokeWidth":1.5,"symbolOpacity":1,"labelFontSize":8.7,"labelColor":"#111","strokeColor":"#cccccc","cornerRadius":3,"padding":5,"rowPadding":2.5,"fillColor":"white","labelOffset":5}}}},
  {"mark":{"type":"point","filled":true,"opacity":1,"size":30,"clip":true},"encoding":{
    "fill":{"field":"s","type":"nominal","legend":null},
    "shape":{"field":"s","type":"nominal","scale":{"range":["M-1,-0.18H-0.18V-1H0.18V-0.18H1V0.18H0.18V1H-0.18V0.18H-1Z","circle","M-0.42,0A0.42,0.42 0 1,0 0.42,0A0.42,0.42 0 1,0 -0.42,0Z","triangle-right","M-0.42,0A0.42,0.42 0 1,0 0.42,0A0.42,0.42 0 1,0 -0.42,0Z","M-0.15,-0.8H0.15V0.8H-0.15Z"]},"legend":null}}}]},

{"width":123,"height":93,"transform":[{"filter":"datum.r=='Gumbel'&&datum.m=='SHD'"}],
 "encoding":{"x":{"field":"d","type":"quantitative","scale":{"type":"log","domain":[10,100]},"axis":{"values":[10,20,30,40,50,60,70,80,90,100],"labels":false,"title":null,"tickSize":{"condition":{"test":"datum.value==10||datum.value==20||datum.value==30||datum.value==100","value":3.5},"value":2}}},
  "y":{"field":"v","type":"quantitative","scale":{"domain":[-230,4915],"nice":false,"zero":false},"axis":{"values":[0,1000,2000,3000,4000],"format":"d","title":"Gumbel"}}},
 "layer":[
  {"mark":{"type":"area","opacity":0.1,"clip":true},"encoding":{"y":{"field":"lo","type":"quantitative","stack":null},"y2":{"field":"hi"},"fill":{"field":"s","type":"nominal","legend":null}}},
  {"mark":{"type":"line","strokeWidth":1.3,"clip":true},"encoding":{"color":{"field":"s","type":"nominal"},"strokeDash":{"field":"s","type":"nominal"}}},
  {"mark":{"type":"point","filled":true,"opacity":1,"size":30,"clip":true},"encoding":{"fill":{"field":"s","type":"nominal","legend":null},"shape":{"field":"s","type":"nominal","legend":null}}}]},
{"width":123,"height":93,"transform":[{"filter":"datum.r=='Gumbel'&&datum.m=='SID'"}],
 "encoding":{"x":{"field":"d","type":"quantitative","scale":{"type":"log","domain":[10,100]},"axis":{"values":[10,20,30,40,50,60,70,80,90,100],"labels":false,"title":null,"tickSize":{"condition":{"test":"datum.value==10||datum.value==20||datum.value==30||datum.value==100","value":3.5},"value":2}}},
  "y":{"field":"v","type":"quantitative","scale":{"domain":[-460,4130],"nice":false,"zero":false},"axis":{"values":[0,1000,2000,3000,4000],"format":"d","title":null}}},
 "layer":[
  {"mark":{"type":"area","opacity":0.1,"clip":true},"encoding":{"y":{"field":"lo","type":"quantitative","stack":null},"y2":{"field":"hi"},"fill":{"field":"s","type":"nominal","legend":null}}},
  {"mark":{"type":"line","strokeWidth":1.3,"clip":true},"encoding":{"color":{"field":"s","type":"nominal"},"strokeDash":{"field":"s","type":"nominal"}}},
  {"mark":{"type":"point","filled":true,"opacity":1,"size":30,"clip":true},"encoding":{"fill":{"field":"s","type":"nominal","legend":null},"shape":{"field":"s","type":"nominal","legend":null}}}]},
{"width":123,"height":93,"transform":[{"filter":"datum.r=='Gumbel'&&datum.m=='F1'"}],
 "encoding":{"x":{"field":"d","type":"quantitative","scale":{"type":"log","domain":[10,100]},"axis":{"values":[10,20,30,40,50,60,70,80,90,100],"labels":false,"title":null,"tickSize":{"condition":{"test":"datum.value==10||datum.value==20||datum.value==30||datum.value==100","value":3.5},"value":2}}},
  "y":{"field":"v","type":"quantitative","scale":{"domain":[0.014,0.909],"nice":false,"zero":false},"axis":{"values":[0.2,0.4,0.6,0.8],"format":".1f","title":null}}},
 "layer":[
  {"mark":{"type":"area","opacity":0.1,"clip":true},"encoding":{"y":{"field":"lo","type":"quantitative","stack":null},"y2":{"field":"hi"},"fill":{"field":"s","type":"nominal","legend":null}}},
  {"mark":{"type":"line","strokeWidth":1.3,"clip":true},"encoding":{"color":{"field":"s","type":"nominal"},"strokeDash":{"field":"s","type":"nominal"}}},
  {"mark":{"type":"point","filled":true,"opacity":1,"size":30,"clip":true},"encoding":{"fill":{"field":"s","type":"nominal","legend":null},"shape":{"field":"s","type":"nominal","legend":null}}}]},
{"width":123,"height":93,"transform":[{"filter":"datum.r=='Gumbel'&&datum.m=='time'"}],
 "encoding":{"x":{"field":"d","type":"quantitative","scale":{"type":"log","domain":[10,100]},"axis":{"values":[10,20,30,40,50,60,70,80,90,100],"labels":false,"title":null,"tickSize":{"condition":{"test":"datum.value==10||datum.value==20||datum.value==30||datum.value==100","value":3.5},"value":2}}},
  "y":{"field":"v","type":"quantitative","scale":{"domain":[-15.2,73],"nice":false,"zero":false},"axis":{"values":[0,20,40,60],"format":"d","title":null}}},
 "layer":[
  {"mark":{"type":"area","opacity":0.1,"clip":true},"encoding":{"y":{"field":"lo","type":"quantitative","stack":null},"y2":{"field":"hi"},"fill":{"field":"s","type":"nominal","legend":null}}},
  {"mark":{"type":"line","strokeWidth":1.3,"clip":true},"encoding":{"color":{"field":"s","type":"nominal"},"strokeDash":{"field":"s","type":"nominal"}}},
  {"mark":{"type":"point","filled":true,"opacity":1,"size":30,"clip":true},"encoding":{"fill":{"field":"s","type":"nominal","legend":null},"shape":{"field":"s","type":"nominal","legend":null}}}]},

{"width":123,"height":93,"transform":[{"filter":"datum.r=='MLP'&&datum.m=='SHD'"}],
 "encoding":{"x":{"field":"d","type":"quantitative","scale":{"type":"log","domain":[10,100]},"axis":{"values":[10,20,30,40,50,60,70,80,90,100],"labelExpr":"datum.value==10||datum.value==20||datum.value==30||datum.value==100 ? datum.value : ''","labelOverlap":false,"labelFlush":false,"title":"d","tickSize":{"condition":{"test":"datum.value==10||datum.value==20||datum.value==30||datum.value==100","value":3.5},"value":2}}},
  "y":{"field":"v","type":"quantitative","scale":{"domain":[-210,5070],"nice":false,"zero":false},"axis":{"values":[0,1000,2000,3000,4000,5000],"format":"d","title":"MLP"}}},
 "layer":[
  {"mark":{"type":"area","opacity":0.1,"clip":true},"encoding":{"y":{"field":"lo","type":"quantitative","stack":null},"y2":{"field":"hi"},"fill":{"field":"s","type":"nominal","legend":null}}},
  {"mark":{"type":"line","strokeWidth":1.3,"clip":true},"encoding":{"color":{"field":"s","type":"nominal"},"strokeDash":{"field":"s","type":"nominal"}}},
  {"mark":{"type":"point","filled":true,"opacity":1,"size":30,"clip":true},"encoding":{"fill":{"field":"s","type":"nominal","legend":null},"shape":{"field":"s","type":"nominal","legend":null}}}]},
{"width":123,"height":93,"transform":[{"filter":"datum.r=='MLP'&&datum.m=='SID'"}],
 "encoding":{"x":{"field":"d","type":"quantitative","scale":{"type":"log","domain":[10,100]},"axis":{"values":[10,20,30,40,50,60,70,80,90,100],"labelExpr":"datum.value==10||datum.value==20||datum.value==30||datum.value==100 ? datum.value : ''","labelOverlap":false,"labelFlush":false,"title":"d","tickSize":{"condition":{"test":"datum.value==10||datum.value==20||datum.value==30||datum.value==100","value":3.5},"value":2}}},
  "y":{"field":"v","type":"quantitative","scale":{"domain":[-270,4860],"nice":false,"zero":false},"axis":{"values":[0,1000,2000,3000,4000],"format":"d","title":null}}},
 "layer":[
  {"mark":{"type":"area","opacity":0.1,"clip":true},"encoding":{"y":{"field":"lo","type":"quantitative","stack":null},"y2":{"field":"hi"},"fill":{"field":"s","type":"nominal","legend":null}}},
  {"mark":{"type":"line","strokeWidth":1.3,"clip":true},"encoding":{"color":{"field":"s","type":"nominal"},"strokeDash":{"field":"s","type":"nominal"}}},
  {"mark":{"type":"point","filled":true,"opacity":1,"size":30,"clip":true},"encoding":{"fill":{"field":"s","type":"nominal","legend":null},"shape":{"field":"s","type":"nominal","legend":null}}}]},
{"width":123,"height":93,"transform":[{"filter":"datum.r=='MLP'&&datum.m=='F1'"}],
 "encoding":{"x":{"field":"d","type":"quantitative","scale":{"type":"log","domain":[10,100]},"axis":{"values":[10,20,30,40,50,60,70,80,90,100],"labelExpr":"datum.value==10||datum.value==20||datum.value==30||datum.value==100 ? datum.value : ''","labelOverlap":false,"labelFlush":false,"title":"d","tickSize":{"condition":{"test":"datum.value==10||datum.value==20||datum.value==30||datum.value==100","value":3.5},"value":2}}},
  "y":{"field":"v","type":"quantitative","scale":{"domain":[0,0.83],"nice":false,"zero":false},"axis":{"values":[0,0.2,0.4,0.6,0.8],"format":".1f","title":null}}},
 "layer":[
  {"mark":{"type":"area","opacity":0.1,"clip":true},"encoding":{"y":{"field":"lo","type":"quantitative","stack":null},"y2":{"field":"hi"},"fill":{"field":"s","type":"nominal","legend":null}}},
  {"mark":{"type":"line","strokeWidth":1.3,"clip":true},"encoding":{"color":{"field":"s","type":"nominal"},"strokeDash":{"field":"s","type":"nominal"}}},
  {"mark":{"type":"point","filled":true,"opacity":1,"size":30,"clip":true},"encoding":{"fill":{"field":"s","type":"nominal","legend":null},"shape":{"field":"s","type":"nominal","legend":null}}}]},
{"width":123,"height":93,"transform":[{"filter":"datum.r=='MLP'&&datum.m=='time'"}],
 "encoding":{"x":{"field":"d","type":"quantitative","scale":{"type":"log","domain":[10,100]},"axis":{"values":[10,20,30,40,50,60,70,80,90,100],"labelExpr":"datum.value==10||datum.value==20||datum.value==30||datum.value==100 ? datum.value : ''","labelOverlap":false,"labelFlush":false,"title":"d","tickSize":{"condition":{"test":"datum.value==10||datum.value==20||datum.value==30||datum.value==100","value":3.5},"value":2}}},
  "y":{"field":"v","type":"quantitative","scale":{"domain":[6.5,53.7],"nice":false,"zero":false},"axis":{"values":[10,20,30,40,50],"format":"d","title":null}}},
 "layer":[
  {"mark":{"type":"area","opacity":0.1,"clip":true},"encoding":{"y":{"field":"lo","type":"quantitative","stack":null},"y2":{"field":"hi"},"fill":{"field":"s","type":"nominal","legend":null}}},
  {"mark":{"type":"line","strokeWidth":1.3,"clip":true},"encoding":{"color":{"field":"s","type":"nominal"},"strokeDash":{"field":"s","type":"nominal"}}},
  {"mark":{"type":"point","filled":true,"opacity":1,"size":30,"clip":true},"encoding":{"fill":{"field":"s","type":"nominal","legend":null},"shape":{"field":"s","type":"nominal","legend":null}}}]}
],
"config":{
 "font":"DejaVu Sans",
 "view":{"stroke":"#222","strokeWidth":0.8},
 "axis":{"grid":false,"domain":false,"tickColor":"#222","tickSize":3.5,"tickWidth":0.8,"labelFontSize":6.3,"labelColor":"#111","labelPadding":1.5,"labelFont":"DejaVu Sans","titleFont":"DejaVu Sans","titleFontWeight":"normal","titleColor":"#111"},
 "axisY":{"titleFontSize":10,"titlePadding":4},
 "axisX":{"titleFontSize":11,"titleFontStyle":"italic","titlePadding":1},
 "title":{"fontSize":9.8,"fontWeight":"normal","offset":4,"font":"DejaVu Sans","color":"#111"},
 "legend":{"labelFont":"DejaVu Sans","symbolOpacity":1}
}
}
